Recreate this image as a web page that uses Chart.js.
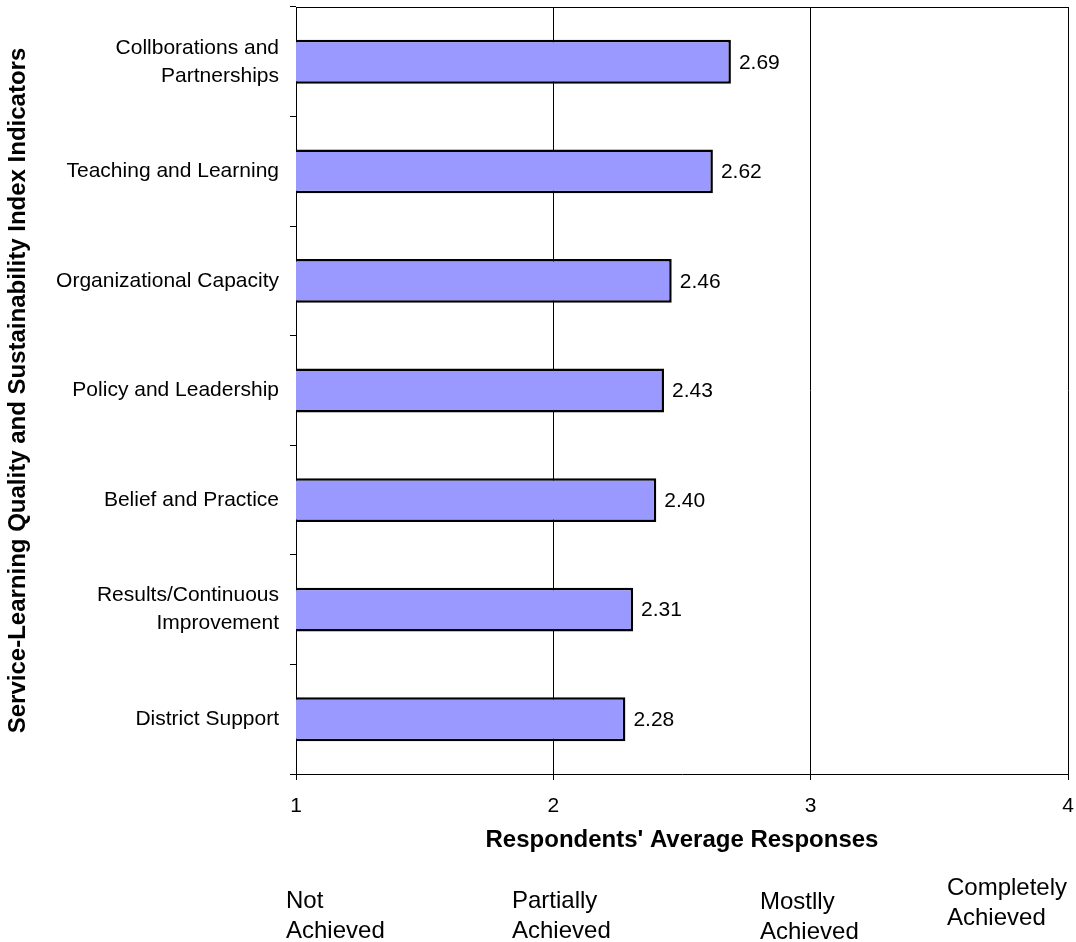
<!DOCTYPE html>
<html>
<head>
<meta charset="utf-8">
<title>Service-Learning Quality and Sustainability Index</title>
<script src="https://cdn.jsdelivr.net/npm/chart.js@4.4.1/dist/chart.umd.min.js"></script>
<style>
  html, body { margin: 0; padding: 0; background: #ffffff; }
  #wrap { position: relative; width: 1076px; height: 942px; }
</style>
</head>
<body>
<div id="wrap"><canvas id="bar-chart"></canvas></div>
<script>
'use strict';

var CATEGORIES = [
  ['Collborations and', 'Partnerships'],
  'Teaching and Learning',
  'Organizational Capacity',
  'Policy and Leadership',
  'Belief and Practice',
  ['Results/Continuous', 'Improvement'],
  'District Support',
];
var AVERAGES     = [2.69, 2.62, 2.46, 2.43, 2.40, 2.31, 2.28];
var X_TICKS      = [1, 2, 3, 4];
var SCALE_LABELS = [
  ['Not', 'Achieved'],
  ['Partially', 'Achieved'],
  ['Mostlly', 'Achieved'],
  ['Completely', 'Achieved'],
];

var FONT = "'Liberation Sans', Arial, sans-serif";

Chart.defaults.font.family = FONT;
Chart.defaults.color       = '#000000';

// numbers printed to the right of each bar
var valueLabels = {
  id: 'valueLabels',
  afterDatasetsDraw: function(chart) {
    var ctx  = chart.ctx;
    var meta = chart.getDatasetMeta(0);
    ctx.save();
    ctx.font         = '21px ' + FONT;
    ctx.fillStyle    = '#000000';
    ctx.textAlign    = 'left';
    ctx.textBaseline = 'middle';
    meta.data.forEach(function(bar, i) {
      ctx.fillText(AVERAGES[i].toFixed(2), bar.x + 8, bar.y + 1);
    });
    ctx.restore();
  },
};

// top border of the plot and the response-scale captions under the axis
var frameAndCaptions = {
  id: 'frameAndCaptions',
  afterDraw: function(chart) {
    var ctx  = chart.ctx;
    var area = chart.chartArea;
    ctx.save();
    ctx.strokeStyle = '#000000';
    ctx.lineWidth   = 1;
    ctx.beginPath();
    ctx.moveTo(area.left, Math.round(area.top) + 0.5);
    ctx.lineTo(area.right, Math.round(area.top) + 0.5);
    ctx.stroke();

    var spots = [
      { x: 286, y: 908 },
      { x: 512, y: 908 },
      { x: 760, y: 909 },
      { x: 947, y: 895 },
    ];
    ctx.font         = '24px ' + FONT;
    ctx.fillStyle    = '#000000';
    ctx.textAlign    = 'left';
    ctx.textBaseline = 'alphabetic';
    SCALE_LABELS.forEach(function(lines, i) {
      lines.forEach(function(line, j) {
        ctx.fillText(line, spots[i].x, spots[i].y + j * 30);
      });
    });
    ctx.restore();
  },
};

var ctx = document.getElementById('bar-chart').getContext('2d');

new Chart(ctx, {
  type: 'bar',
  data: {
    labels: CATEGORIES,
    datasets: [{
      data:            AVERAGES,
      backgroundColor: '#9999ff',
      borderColor:     '#000000',
      borderWidth:     2.5,
      borderSkipped:   false,
      barPercentage:   0.4,
      categoryPercentage: 1.0,
    }],
  },
  options: {
    indexAxis:  'y',
    responsive: true,
    maintainAspectRatio: false,
    animation:  false,
    layout: { padding: { top: 7, right: 8, bottom: 0, left: 0 } },
    plugins: {
      legend:  { display: false },
      tooltip: { enabled: false },
    },
    scales: {
      x: {
        type: 'linear',
        position: 'bottom',
        min: X_TICKS[0],
        max: X_TICKS[X_TICKS.length - 1],
        afterBuildTicks: function(scale) {
          scale.ticks = X_TICKS.map(function(v) { return { value: v }; });
        },
        afterFit: function(scale) {
          scale.height = 168;
          scale.paddingLeft = 0;
          scale.paddingRight = 0;
        },
        grid:   { color: '#000000', lineWidth: 1, drawTicks: true, tickLength: 6 },
        border: { color: '#000000', width: 1 },
        ticks:  { color: '#000000', font: { size: 21 }, padding: 14, maxRotation: 0 },
        title: {
          display: true,
          text:    "Respondents' Average Responses",
          color:   '#000000',
          font:    { size: 24, weight: 'bold' },
          padding: { top: 0, bottom: 87 },
        },
      },
      y: {
        type: 'category',
        afterFit: function(scale) {
          scale.width = 296;
          scale.paddingTop = 0;
          scale.paddingBottom = 0;
        },
        grid: {
          offset: true,
          drawOnChartArea: false,
          drawTicks: true,
          tickLength: 6,
          color: '#000000',
        },
        border: { color: '#000000', width: 1 },
        ticks:  { color: '#000000', font: { size: 21, lineHeight: 1.33 }, padding: 11, autoSkip: false },
        title: {
          display: true,
          text:    'Service-Learning Quality and Sustainability Index Indicators',
          color:   '#000000',
          font:    { size: 24, weight: 'bold' },
          padding: { top: 4, bottom: 0 },
        },
      },
    },
  },
  plugins: [valueLabels, frameAndCaptions],
});
</script>
</body>
</html>
